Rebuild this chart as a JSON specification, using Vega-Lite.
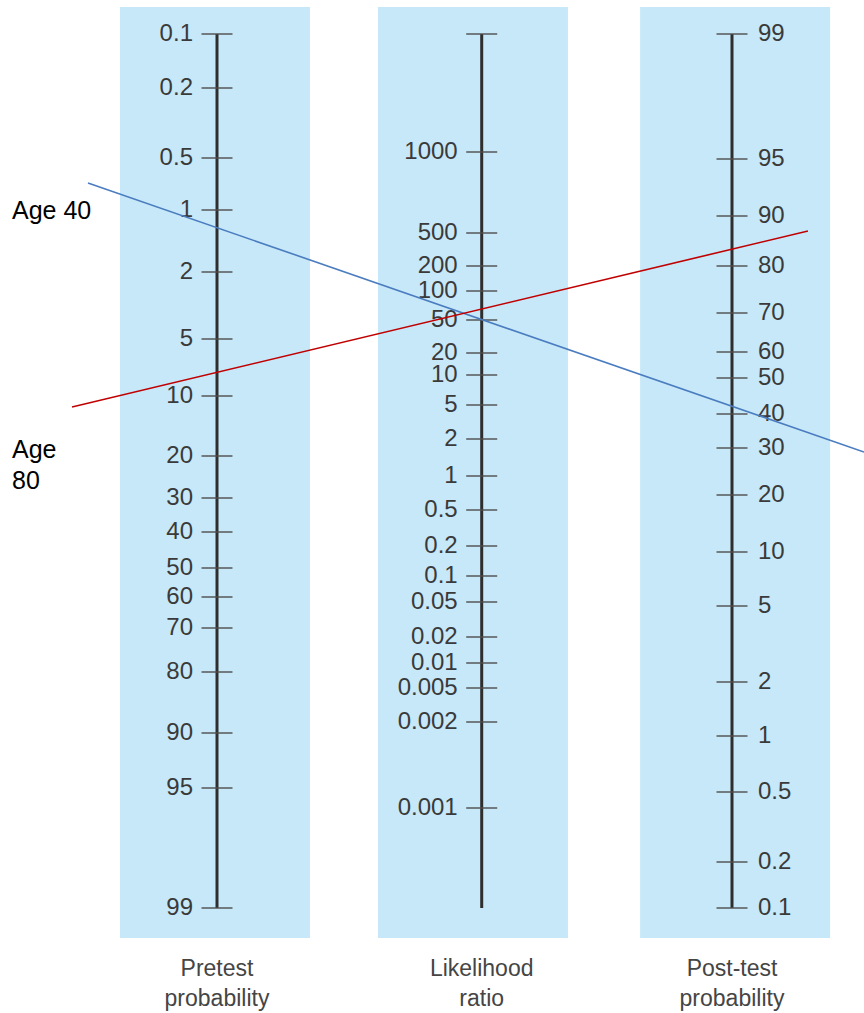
{
  "$schema": "https://vega.github.io/schema/vega-lite/v6.json",
  "width": 864,
  "height": 1013,
  "autosize": {"type": "none"},
  "padding": 0,
  "background": "white",
  "config": {"view": {"stroke": null}},
  "datasets": {
    "columns": [
      {"col": 1, "band": 0.992, "title": "Pretest\nprobability"},
      {"col": 2.028, "band": 1.994, "title": "Likelihood\nratio"},
      {"col": 3, "band": 3.012, "title": "Post-test\nprobability"}
    ],
    "ticks": [
      {"col": 1, "label": "0.1", "pos": 34},
      {"col": 1, "label": "0.2", "pos": 88},
      {"col": 1, "label": "0.5", "pos": 158},
      {"col": 1, "label": "1", "pos": 210},
      {"col": 1, "label": "2", "pos": 272},
      {"col": 1, "label": "5", "pos": 339},
      {"col": 1, "label": "10", "pos": 396},
      {"col": 1, "label": "20", "pos": 456},
      {"col": 1, "label": "30", "pos": 498},
      {"col": 1, "label": "40", "pos": 532},
      {"col": 1, "label": "50", "pos": 568},
      {"col": 1, "label": "60", "pos": 597},
      {"col": 1, "label": "70", "pos": 628},
      {"col": 1, "label": "80", "pos": 672},
      {"col": 1, "label": "90", "pos": 733},
      {"col": 1, "label": "95", "pos": 788},
      {"col": 1, "label": "99", "pos": 908},
      {"col": 2.028, "label": "", "pos": 34},
      {"col": 2.028, "label": "1000", "pos": 152},
      {"col": 2.028, "label": "500", "pos": 233},
      {"col": 2.028, "label": "200", "pos": 266},
      {"col": 2.028, "label": "100", "pos": 291},
      {"col": 2.028, "label": "50", "pos": 320},
      {"col": 2.028, "label": "20", "pos": 353},
      {"col": 2.028, "label": "10", "pos": 375},
      {"col": 2.028, "label": "5", "pos": 405},
      {"col": 2.028, "label": "2", "pos": 439},
      {"col": 2.028, "label": "1", "pos": 476},
      {"col": 2.028, "label": "0.5", "pos": 510},
      {"col": 2.028, "label": "0.2", "pos": 546},
      {"col": 2.028, "label": "0.1", "pos": 576},
      {"col": 2.028, "label": "0.05", "pos": 602},
      {"col": 2.028, "label": "0.02", "pos": 637},
      {"col": 2.028, "label": "0.01", "pos": 663},
      {"col": 2.028, "label": "0.005", "pos": 688},
      {"col": 2.028, "label": "0.002", "pos": 722},
      {"col": 2.028, "label": "0.001", "pos": 808},
      {"col": 3, "label": "99", "pos": 34},
      {"col": 3, "label": "95", "pos": 159},
      {"col": 3, "label": "90", "pos": 216},
      {"col": 3, "label": "80", "pos": 266},
      {"col": 3, "label": "70", "pos": 313},
      {"col": 3, "label": "60", "pos": 352},
      {"col": 3, "label": "50", "pos": 378},
      {"col": 3, "label": "40", "pos": 414},
      {"col": 3, "label": "30", "pos": 448},
      {"col": 3, "label": "20", "pos": 495},
      {"col": 3, "label": "10", "pos": 552},
      {"col": 3, "label": "5", "pos": 606},
      {"col": 3, "label": "2", "pos": 682},
      {"col": 3, "label": "1", "pos": 736},
      {"col": 3, "label": "0.5", "pos": 792},
      {"col": 3, "label": "0.2", "pos": 862},
      {"col": 3, "label": "0.1", "pos": 908}
    ],
    "lines": [
      {"age": "Age 40", "col": 0.499, "pos": 183},
      {"age": "Age 40", "col": 3.5126, "pos": 452},
      {"age": "Age 80", "col": 0.437, "pos": 407},
      {"age": "Age 80", "col": 3.295, "pos": 231}
    ],
    "notes": [
      {"text": "Age 40", "col": 0.204, "pos": 211},
      {"text": "Age\n80", "col": 0.204, "pos": 450}
    ]
  },
  "layer": [
    {
      "data": {"name": "columns"},
      "mark": {"type": "rule", "strokeWidth": 190, "color": "#c7e8f8", "strokeCap": "butt"},
      "encoding": {
        "x": {"field": "band", "type": "quantitative", "scale": {"domain": [0.1573, 3.5126], "nice": false, "zero": false}, "axis": null},
        "y": {"datum": 7, "type": "quantitative", "scale": {"domain": [0, 1013], "reverse": true, "nice": false, "zero": false}, "axis": null},
        "y2": {"datum": 938}
      }
    },
    {
      "data": {"name": "columns"},
      "mark": {"type": "rule", "strokeWidth": 3, "color": "#2e2e2e"},
      "encoding": {
        "x": {"field": "col", "type": "quantitative", "axis": null},
        "y": {"datum": 34, "type": "quantitative", "axis": null},
        "y2": {"datum": 908}
      }
    },
    {
      "data": {"name": "ticks"},
      "mark": {"type": "tick", "orient": "horizontal", "size": 31, "thickness": 2, "color": "#4d4d4d"},
      "encoding": {
        "x": {"field": "col", "type": "quantitative", "axis": null},
        "y": {"field": "pos", "type": "quantitative", "axis": null}
      }
    },
    {
      "data": {"name": "ticks"},
      "transform": [{"filter": "datum.col < 3"}],
      "mark": {"type": "text", "align": "right", "baseline": "middle", "dx": -24, "fontSize": 24, "font": "Liberation Sans", "color": "#3a3a3a"},
      "encoding": {
        "x": {"field": "col", "type": "quantitative", "axis": null},
        "y": {"field": "pos", "type": "quantitative", "axis": null},
        "text": {"field": "label"}
      }
    },
    {
      "data": {"name": "ticks"},
      "transform": [{"filter": "datum.col == 3"}],
      "mark": {"type": "text", "align": "left", "baseline": "middle", "dx": 26, "fontSize": 24, "font": "Liberation Sans", "color": "#3a3a3a"},
      "encoding": {
        "x": {"field": "col", "type": "quantitative", "axis": null},
        "y": {"field": "pos", "type": "quantitative", "axis": null},
        "text": {"field": "label"}
      }
    },
    {
      "data": {"name": "columns"},
      "mark": {"type": "text", "align": "center", "baseline": "alphabetic", "lineBreak": "\n", "lineHeight": 30, "fontSize": 23, "font": "Liberation Sans", "color": "#454545"},
      "encoding": {
        "x": {"field": "col", "type": "quantitative", "axis": null},
        "y": {"datum": 976, "type": "quantitative", "axis": null},
        "text": {"field": "title"}
      }
    },
    {
      "data": {"name": "lines"},
      "mark": {"type": "line", "strokeWidth": 1.6},
      "encoding": {
        "x": {"field": "col", "type": "quantitative", "axis": null},
        "y": {"field": "pos", "type": "quantitative", "axis": null},
        "color": {"field": "age", "type": "nominal", "scale": {"domain": ["Age 40", "Age 80"], "range": ["#4a7cc0", "#c00000"]}, "legend": null}
      }
    },
    {
      "data": {"name": "notes"},
      "mark": {"type": "text", "align": "left", "baseline": "middle", "lineBreak": "\n", "lineHeight": 31, "fontSize": 25, "font": "Liberation Sans", "color": "#000000"},
      "encoding": {
        "x": {"field": "col", "type": "quantitative", "axis": null},
        "y": {"field": "pos", "type": "quantitative", "axis": null},
        "text": {"field": "text"}
      }
    }
  ]
}
